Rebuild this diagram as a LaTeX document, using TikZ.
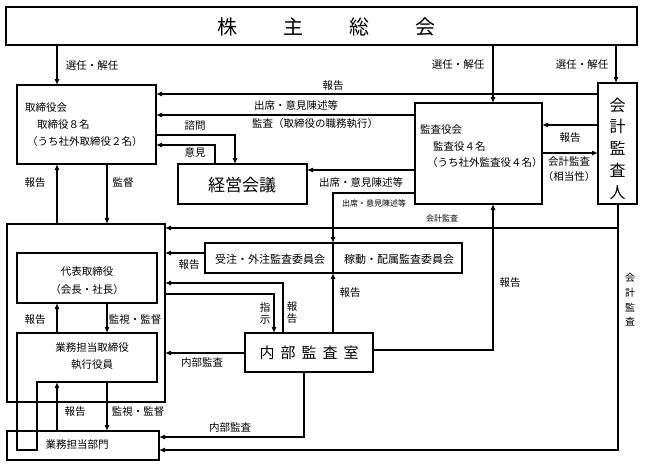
\documentclass[tikz,border=0pt]{standalone}
\usepackage{fontspec}
\newfontfamily\cjk{Noto Sans CJK JP}
\usetikzlibrary{arrows.meta}
\begin{document}
\begin{tikzpicture}[x=1pt,y=-1pt,
  box/.style={draw,line width=1.3pt,inner sep=0,outer sep=0},
  arr/.style={line width=1.1pt,-{Latex[length=6pt,width=5pt]}},
  ln/.style={line width=1.1pt},
  lbl/.style={font=\cjk\fontsize{10.5}{12}\selectfont,inner sep=0},
  sm/.style={font=\cjk\fontsize{8}{9}\selectfont,inner sep=0},
  txt/.style={font=\cjk\fontsize{10.5}{13}\selectfont,inner sep=0,anchor=west},
  ctxt/.style={font=\cjk\fontsize{10.5}{13}\selectfont,inner sep=0}]
\useasboundingbox (0,0) rectangle (648,466);
% boxes
\node[box,minimum width=631pt,minimum height=38pt] (soukai) at (321.5,26) {};
\node[box,minimum width=139pt,minimum height=79pt] (tor) at (86.5,124.5) {};
\node[box,minimum width=129pt,minimum height=40pt] (keiei) at (242.5,184) {};
\node[box,minimum width=127pt,minimum height=101pt] (kansa) at (478.5,153.5) {};
\node[box,minimum width=39pt,minimum height=121pt] (kaikei) at (617.5,143.5) {};
\node[box,minimum width=158pt,minimum height=178pt] (outer) at (86,313) {};
\node[box,minimum width=140pt,minimum height=50pt] (daihyo) at (87,278) {};
\node[inner sep=0,outer sep=0,minimum width=140pt,minimum height=49pt] (gyomu) at (87,357.5) {};
\node[box,minimum width=152pt,minimum height=29pt] (bumon) at (83,445.5) {};
\node[box,minimum width=257pt,minimum height=30pt] (iinkai) at (333.5,258) {};
\node[box,minimum width=128pt,minimum height=39pt] (naibu) at (309,352.5) {};
% outline of 業務担当取締役 with tail
\draw[line width=1.3pt] (gyomu.north west) -- (gyomu.north east) -- (gyomu.south east)
  -- (37,0 |- gyomu.south) -- (37,450) -- (gyomu.west |- 0,450) -- cycle;
\draw[ln] (333,0 |- iinkai.north) -- (333,0 |- iinkai.south);
% box texts
\node[font=\cjk\fontsize{20}{24}\selectfont,inner sep=0] (tsoukai) at (326,27) {株\hspace{46pt}主\hspace{46pt}総\hspace{46pt}会};
\node[txt] (t1) at (25,108) {取締役会};
\node[txt] (t2) at (37,125) {取締役８名};
\node[txt] (t3) at (27,142) {（うち社外取締役２名）};
\node[font=\cjk\fontsize{17}{20}\selectfont,inner sep=0] (tkeiei) at (242,185) {経営会議};
\node[txt] (t4) at (420,130) {監査役会};
\node[txt] (t5) at (433,147) {監査役４名};
\node[txt] (t6) at (427,163) {（うち社外監査役４名）};
\node[font=\cjk\fontsize{16}{21.8}\selectfont,inner sep=0,align=center] (tkaikei) at (617.5,148.5) {会\\計\\監\\査\\人};
\node[ctxt] (t7) at (87,272) {代表取締役};
\node[ctxt] (t8) at (87,290) {（会長・社長）};
\node[ctxt] (t9) at (92,348) {業務担当取締役};
\node[ctxt] (t10) at (92,365) {執行役員};
\node[ctxt] (t11) at (77,445) {業務担当部門};
\node[font=\cjk\fontsize{11}{13}\selectfont,inner sep=0] (t12) at (270,259) {受注・外注監査委員会};
\node[font=\cjk\fontsize{11}{13}\selectfont,inner sep=0] (t13) at (399,259) {稼動・配属監査委員会};
\node[font=\cjk\fontsize{15}{18}\selectfont,inner sep=0] (tnaibu) at (309,353) {内\hspace{6pt}部\hspace{6pt}監\hspace{6pt}査\hspace{6pt}室};
% connectors
\draw[arr] (57,0 |- soukai.south) -- (57,0 |- tor.north);
\draw[arr] (493,0 |- soukai.south) -- (493,0 |- kansa.north);
\draw[arr] (616,0 |- soukai.south) -- (616,0 |- kaikei.north);
\draw[arr] (kaikei.west |- 0,94) -- (tor.east |- 0,94);
\draw[arr] (kansa.west |- 0,115) -- (tor.east |- 0,115);
\draw[arr] (tor.east |- 0,135) -| (235,0 |- keiei.north);
\draw[arr] (215,0 |- keiei.north) |- (tor.east |- 0,145);
\draw[arr] (kansa.west |- 0,170) -- (keiei.east |- 0,170);
\draw[arr] (kansa.west |- 0,193) -| (333,0 |- iinkai.north);
\draw[arr] (kaikei.west |- 0,125) -- (kansa.east |- 0,125);
\draw[arr] (kansa.east |- 0,153) -- (kaikei.west |- 0,153);
\coordinate (kj) at (618,228);
\draw[arr] (618,0 |- kaikei.south) -- (kj) -- (outer.east |- kj);
\draw[arr] (kj) |- (bumon.east |- 0,450);
\draw[arr] (naibu.east |- 0,350) -| (493,0 |- kansa.south);
\draw[arr] (iinkai.west |- 0,253) -- (outer.east |- 0,253);
\draw[arr] (333,0 |- naibu.north) -- (333,0 |- iinkai.south);
\draw[arr] (283,0 |- naibu.north) |- (outer.east |- 0,283);
\draw[arr] (outer.east |- 0,294) -| (274,0 |- naibu.north);
\draw[arr] (naibu.west |- 0,353) -- (outer.east |- 0,353);
\draw[arr] (304,0 |- naibu.south) |- (bumon.east |- 0,437);
\draw[arr] (107,0 |- tor.south) -- (107,0 |- outer.north);
\draw[arr] (57,0 |- outer.north) -- (57,0 |- tor.south);
\draw[arr] (57,0 |- gyomu.north) -- (57,0 |- daihyo.south);
\draw[arr] (107,0 |- daihyo.south) -- (107,0 |- gyomu.north);
\draw[arr] (57,0 |- bumon.north) -- (57,0 |- gyomu.south);
\draw[arr] (107,0 |- gyomu.south) -- (107,0 |- bumon.north);
% labels
\node[lbl] (l1) at (92,66) {選任・解任};
\node[lbl] (l2) at (458,65) {選任・解任};
\node[lbl] (l3) at (582,65) {選任・解任};
\node[lbl] (l4) at (333,86) {報告};
\node[lbl] (l5) at (296,105) {出席・意見陳述等};
\node[lbl] (l6) at (315,124) {監査（取締役の職務執行）};
\node[lbl] (l7) at (195,126) {諮問};
\node[lbl] (l8) at (195,153) {意見};
\node[lbl] (l9) at (361,182) {出席・意見陳述等};
\node[sm] (l10) at (374,203) {出席・意見陳述等};
\node[lbl] (l11) at (570,138) {報告};
\node[lbl] (l12) at (569,162) {会計監査};
\node[lbl] (l13) at (569,177) {（相当性）};
\node[sm] (l14) at (442,218) {会計監査};
\node[font=\cjk\fontsize{10}{14.7}\selectfont,inner sep=0,align=center] (l15) at (630,300) {会\\計\\監\\査};
\node[lbl] (l16) at (510,283) {報告};
\node[lbl] (l17) at (189,265) {報告};
\node[lbl] (l18) at (350,293) {報告};
\node[lbl,align=center] (l19) at (265,313) {指\\示};
\node[lbl,align=center] (l20) at (292,313) {報\\告};
\node[lbl] (l21) at (202,363) {内部監査};
\node[lbl] (l22) at (230,428) {内部監査};
\node[lbl] (l23) at (35,183) {報告};
\node[lbl] (l24) at (123,183) {監督};
\node[lbl] (l25) at (35,320) {報告};
\node[lbl] (l26) at (135,320) {監視・監督};
\node[lbl] (l27) at (75,412) {報告};
\node[lbl] (l28) at (138,412) {監視・監督};
\end{tikzpicture}
\end{document}
